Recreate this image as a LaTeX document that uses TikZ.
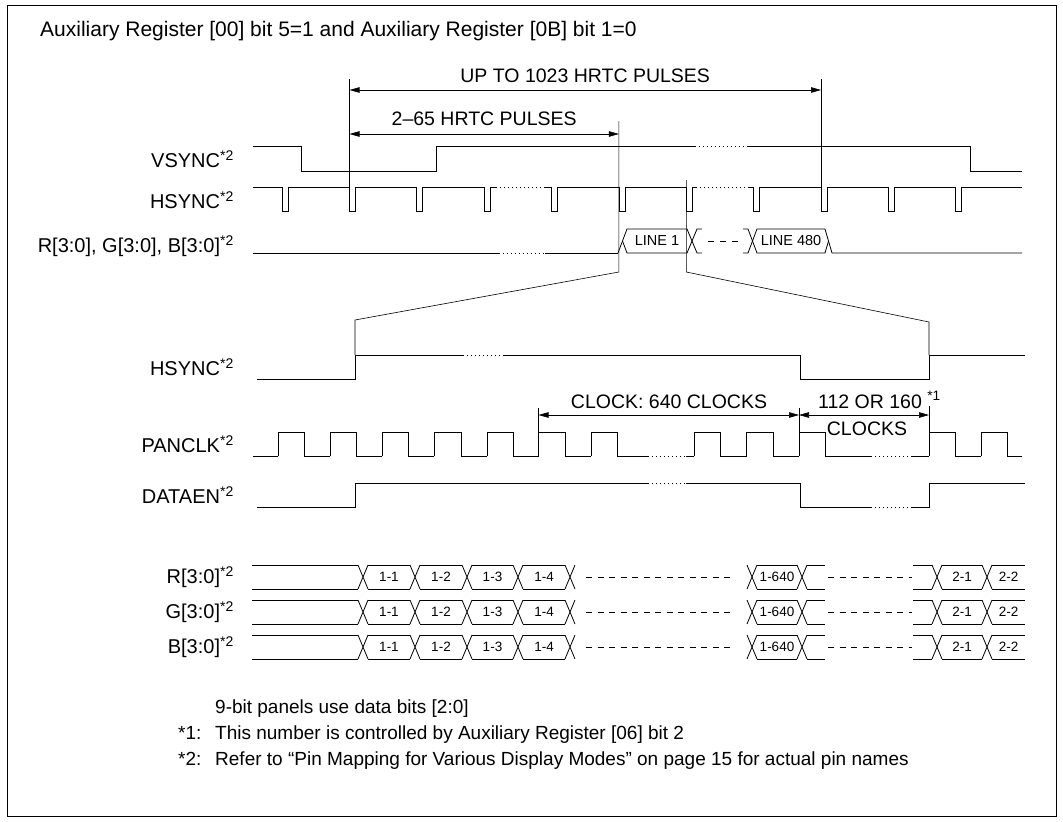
\documentclass[tikz,border=0pt]{standalone}
\usepackage{fontspec}
\setmainfont{Liberation Sans}
\usetikzlibrary{arrows.meta}

\begin{document}
\begin{tikzpicture}[x=1pt, y=-1pt,
    hd/.tip = {Triangle[length=10pt,width=5.5pt]},
    wave/.style = {line width=0.8pt},
    dots/.style = {line width=0.8pt, dash pattern=on 1pt off 3pt},
    gap/.style = {line width=0.8pt, dash pattern=on 6pt off 5.5pt},
    guide/.style = {line width=0.6pt},
    dims/.style = {line width=0.6pt, hd-hd},
    sig/.style = {anchor=east, inner sep=0pt, font=\fontsize{20}{24}\selectfont},
    dimtext/.style = {anchor=base, inner sep=0pt, font=\fontsize{19.5}{23}\selectfont},
    val/.style = {inner sep=0pt, font=\fontsize{13.5}{16}\selectfont},
    note/.style = {anchor=base west, inner sep=0pt, font=\fontsize{19}{23}\selectfont}]
    \useasboundingbox (0,0) rectangle (1063,822);
    \draw[line width=1pt] (7,5) rectangle (1056,816);
    \node[anchor=base west, inner sep=0pt, font=\fontsize{21}{25}\selectfont] (title) at (40,36)
        {Auxiliary Register [00] bit 5=1 and Auxiliary Register [0B] bit 1=0};

    \node[sig] (vsync) at (234,159) {VSYNC\textsuperscript{*2}};
    \node[sig] (hsync) at (234,200) {HSYNC\textsuperscript{*2}};
    \node[sig] (rgb) at (234,246) {R[3:0], G[3:0], B[3:0]\textsuperscript{*2}};
    \node[sig] (hsyncz) at (234,367) {HSYNC\textsuperscript{*2}};
    \node[sig] (panclk) at (234,444) {PANCLK\textsuperscript{*2}};
    \node[sig] (dataen) at (234,495) {DATAEN\textsuperscript{*2}};

    % frame timing
    \draw[wave] (253,146) -- (301,146) -- (301,171) -- (436,171) -- (436,146) -- (695,146)
        (748,146) -- (970,146) -- (970,171) -- (1022,171);
    \draw[dots] (695,146) -- (748,146);

    \foreach \x in {282.1,349.5,416.8,484.2,551.5,618.9,686.3,753.6,821.0,888.3,955.7}
        \draw[wave] (\x,187) -- (\x,211) -- (\x+6,211) -- (\x+6,187);
    \draw[wave] (253,187) -- (282.1,187) (288.1,187) -- (349.5,187) (355.5,187) -- (416.8,187)
        (422.8,187) -- (484.2,187) (490.2,187) -- (496,187) (545,187) -- (551.5,187)
        (557.5,187) -- (618.9,187) (624.9,187) -- (686.3,187) (692.3,187) -- (696,187)
        (748,187) -- (753.6,187) (759.6,187) -- (821,187) (827,187) -- (888.3,187)
        (894.3,187) -- (955.7,187) (961.7,187) -- (1022,187);
    \draw[dots] (496,187) -- (545,187) (696,187) -- (748,187);

    \draw[wave] (253,253) -- (499,253) (545,253) -- (618,253);
    \draw[dots] (499,253) -- (545,253);
    \draw[wave] (618,253) -- (627,229) -- (687,229) -- (697,253) -- (702,253);
    \draw[wave] (622.5,241) -- (627,253) -- (687,253) -- (697,229) -- (702,229);
    \draw[line width=0.8pt, dash pattern=on 6pt off 6pt] (708,241) -- (741,241);
    \draw[wave] (743,229) -- (748,229) -- (757,253) -- (825,253) -- (828.5,241);
    \draw[wave] (743,253) -- (748,253) -- (757,229) -- (825,229) -- (832,253) -- (1022,253);
    \node[val, font=\fontsize{14.5}{17}\selectfont] (line1) at (657,241) {LINE 1};
    \node[val, font=\fontsize{14.5}{17}\selectfont] (line480) at (791,241) {LINE 480};

    \draw[guide] (349.5,79) -- (349.5,187);
    \draw[guide] (821,79) -- (821,187);
    \draw[dims] (349.5,90) -- (821,90);
    \node[dimtext] (upto) at (585.2,82) {UP TO 1023 HRTC PULSES};
    \draw[dims] (349.5,134) -- (618.9,134);
    \node[dimtext] (hrtc) at (484.2,125) {2–65 HRTC PULSES};
    \draw[guide] (618.9,121) -- (618.9,272) -- (355,320) -- (355,355);
    \draw[guide] (686.3,180) -- (686.3,272) -- (929,322) -- (929,355);

    % one line
    \draw[wave] (257,379) -- (355,379) -- (355,355) -- (463,355) (503,355) -- (800.5,355)
        -- (800.5,379) -- (929,379) -- (929,355) -- (1025,355);
    \draw[dots] (463,355) -- (503,355);

    \foreach \r/\f in {278/304, 330/356, 382/408, 434/461, 487/513, 538.5/565, 591/617,
                       694/720, 746.5/773, 799/825, 929/955, 981/1007}
        \draw[wave] (\r,456) -- (\r,432) -- (\f,432) -- (\f,456);
    \draw[wave] (253,456) -- (278,456) (304,456) -- (330,456) (356,456) -- (382,456)
        (408,456) -- (434,456) (461,456) -- (487,456) (513,456) -- (538.5,456)
        (565,456) -- (591,456) (617,456) -- (648,456) (686,456) -- (694,456)
        (720,456) -- (746.5,456) (773,456) -- (799,456) (825,456) -- (871,456)
        (911,456) -- (929,456) (955,456) -- (981,456) (1007,456) -- (1022,456);
    \draw[dots] (648,456) -- (686,456) (871,456) -- (911,456);

    \draw[guide] (538.5,408) -- (538.5,432);
    \draw[guide] (799,408) -- (799,432);
    \draw[guide] (929,406) -- (929,432);
    \draw[dims] (538.5,415) -- (799,415);
    \draw[dims] (799,415) -- (929,415);
    \node[dimtext] (active) at (669,408) {CLOCK: 640 CLOCKS};
    \node[dimtext, anchor=base west] (blank) at (818,408) {112 OR 160 \textsuperscript{*1}};
    \node[dimtext] (blankclk) at (867,435) {CLOCKS};

    \draw[wave] (257,507) -- (355,507) -- (355,483) -- (648,483) (686,483) -- (800.5,483)
        -- (800.5,507) -- (871,507) (911,507) -- (929,507) -- (929,483) -- (1025,483);
    \draw[dots] (648,483) -- (686,483) (871,507) -- (911,507);

    % pixel data
    \foreach \nm/\t in {R/565, G/600, B/635} {
        \pgfmathsetmacro\b{\t+24}
        \pgfmathsetmacro\m{\t+12}
        \node[sig] (\nm lbl) at (234,\m) {\nm[3:0]\textsuperscript{*2}};
        \foreach \a/\c in {252/358, 368/410, 420/462, 472/513, 523/565, 757/797, 807/825, 913/932, 942/982, 992/1025}
            \draw[wave] (\a,\t) -- (\c,\t) (\a,\b) -- (\c,\b);
        \foreach \x in {358, 410, 462, 513, 565, 747, 797, 932, 982}
            \draw[wave] (\x,\t) -- (\x+10,\b) (\x,\b) -- (\x+10,\t);
        \draw[gap] (586,\m) -- (733,\m);
        \draw[gap] (828,\m) -- (912,\m);
        \foreach \v/\x [count=\i] in {1-1/389, 1-2/441, 1-3/492.5, 1-4/544, 1-640/777, 2-1/962, 2-2/1008.5}
            \node[val] (\nm v\i) at (\x,\m) {\v};
    }

    \node[note] (fn0) at (215,713) {9-bit panels use data bits [2:0]};
    \node[note] (fn1m) at (178,739) {*1:};
    \node[note] (fn1) at (215,739) {This number is controlled by Auxiliary Register [06] bit 2};
    \node[note] (fn2m) at (178,765) {*2:};
    \node[note] (fn2) at (215,765) {Refer to “Pin Mapping for Various Display Modes” on page 15 for actual pin names};
\end{tikzpicture}
\end{document}
